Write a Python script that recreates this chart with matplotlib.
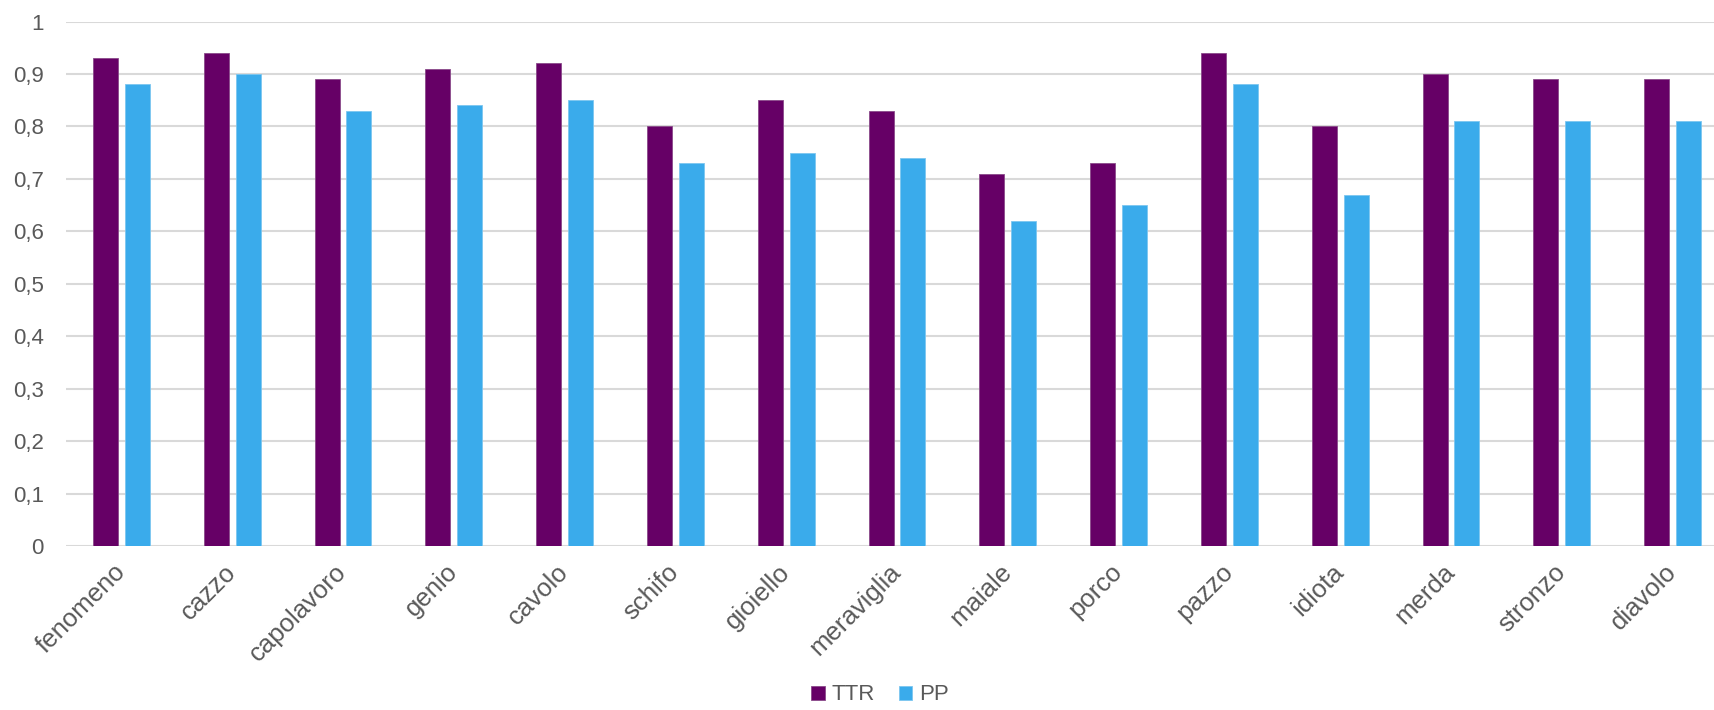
import numpy as np
import matplotlib
matplotlib.use("Agg")
import matplotlib.pyplot as plt
from matplotlib.ticker import FuncFormatter

plt.rcParams['font.family'] = ['Liberation Sans', 'DejaVu Sans']

# dati
parole = ["fenomeno", "cazzo", "capolavoro", "genio", "cavolo", "schifo", "gioiello",
          "meraviglia", "maiale", "porco", "pazzo", "idiota", "merda", "stronzo", "diavolo"]
ttr = [0.93, 0.94, 0.89, 0.91, 0.92, 0.80, 0.85, 0.83, 0.71, 0.73, 0.94, 0.80, 0.90, 0.89, 0.89]
pp = [0.88, 0.90, 0.83, 0.84, 0.85, 0.73, 0.75, 0.74, 0.62, 0.65, 0.88, 0.67, 0.81, 0.81, 0.81]

col_ttr = "#660066"
col_pp = "#3AABEB"
grigio = "#595959"

W, H = 1715, 710
fig = plt.figure(figsize=(W / 100, H / 100), dpi=100)
ax = fig.add_axes([66 / W, (H - 546) / H, (W - 66) / W, (546 - 21.5) / H])

x = np.arange(len(parole))
larg = 0.226
off = 0.144
ax.bar(x - off, ttr, width=larg, color=col_ttr, edgecolor="#8a4a8a", linewidth=0.6, label="TTR", zorder=3)
ax.bar(x + off, pp, width=larg, color=col_pp, edgecolor="#7cc6f0", linewidth=0.6, label="PP", zorder=3)

ax.set_ylim(0, 1)
ax.set_xlim(-0.5, -0.5 + (W - 66) / 110.8)
ax.set_yticks(np.arange(0, 1.01, 0.1))
ax.yaxis.set_major_formatter(FuncFormatter(lambda v, p: ("%g" % round(v, 1)).replace(".", ",")))
ax.grid(axis="y", color="#D9D9D9", linewidth=1.5, zorder=0)
ax.grid(axis="x", visible=False)
for s in ax.spines.values():
    s.set_visible(False)
ax.tick_params(axis="both", length=0, labelcolor=grigio)
ax.tick_params(axis="y", pad=16, labelsize=16)

ax.set_xticks(x)
ax.set_xticklabels(parole, rotation=45, ha="right", va="center", rotation_mode="anchor")
ax.tick_params(axis="x", pad=16, labelsize=18.5)

fig.legend(loc="center", bbox_to_anchor=(880 / W, 15 / H), ncol=2, frameon=False,
           fontsize=16, handlelength=0.6, handleheight=0.6, handletextpad=0.3,
           columnspacing=1.1, labelcolor=grigio)

fig.savefig("out.png", dpi=100)
